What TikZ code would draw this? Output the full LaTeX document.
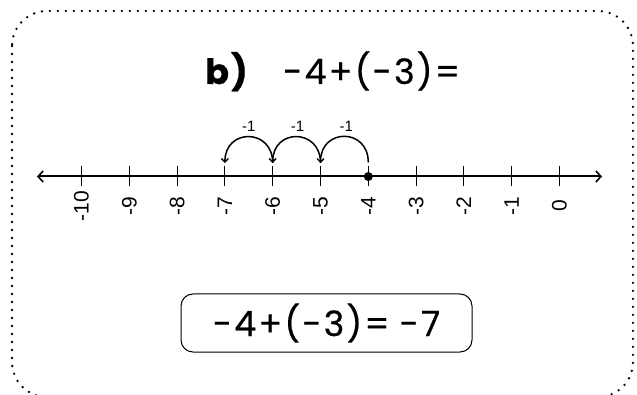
\documentclass[tikz,border=0pt]{standalone}
\usepackage{fontspec}
\setmainfont{Liberation Sans}
\newfontfamily\eqfont{Poppins}[LetterSpace=6, FakeBold=0.5]
\usetikzlibrary{arrows.meta,calc}
\begin{document}
\begin{tikzpicture}[x=1pt,y=-1pt,
  dotborder/.style={line width=2.6pt, line cap=round, dash pattern=on 0pt off 8pt, rounded corners=35pt},
  axisline/.style={line width=2pt, {Straight Barb[length=5pt,width=11pt,line width=1.6pt]}-{Straight Barb[length=5pt,width=11pt,line width=1.6pt]}},
  tickmark/.style={line width=1pt},
  hop/.style={line width=1.5pt, -{Straight Barb[length=3.5pt,width=7pt,line width=1.4pt]}},
  axlabel/.style={rotate=90, font=\fontsize{21}{24}\selectfont, inner sep=0pt},
  hoplabel/.style={font=\fontsize{15}{17}\selectfont, inner sep=0pt},
  bigtext/.style={font=\eqfont\fontsize{35}{40}\selectfont, inner sep=0pt},
  answerbox/.style={draw, rounded corners=12pt, line width=1pt, minimum width=291pt, minimum height=58pt, inner sep=0pt, font=\eqfont\fontsize{35}{40}\selectfont}
]
\useasboundingbox (0,0) rectangle (637,395);
\begin{scope}
  \clip (0,0) rectangle (637,395);
  \draw[dotborder] (12,11) rectangle (633,397);
\end{scope}

% title
\node[bigtext, anchor=base west] (lbl) at (205,84) {\bfseries b)};
\node[bigtext, anchor=base west] (task) at (283,84) {-4+(-3)=};

% number line
\coordinate (L) at (37,176.5);
\coordinate (R) at (602,176.5);
\draw[axisline] (L) -- (R);
\foreach \k in {0,...,10} {
  \coordinate (m\k) at ({559.5-\k*47.8},176.5);
  \draw[tickmark] ([yshift=10pt]m\k) -- ([yshift=-10pt]m\k);
  \node[axlabel] (lab\k) at ([yshift=-29.5pt]m\k) {\ifnum\k=0 0\else -\k\fi};
}
\node[circle, fill, inner sep=0pt, minimum size=9pt] (dot) at (m4) {};

% hops
\draw[hop] ([yshift=14pt]m4) .. controls +(0,-35) and +(0,-35) .. ([yshift=13.5pt]m5);
\draw[hop] ([yshift=13.5pt]m5) .. controls +(0,-35) and +(0,-35) .. ([yshift=13.5pt]m6);
\draw[hop] ([yshift=13.5pt]m6) .. controls +(0,-35) and +(0,-35) .. ([yshift=13.5pt]m7);
\node[hoplabel] (h1) at ($(m4)!0.5!(m5)+(2,-50)$) {-1};
\node[hoplabel] (h2) at ($(m5)!0.5!(m6)+(1,-50)$) {-1};
\node[hoplabel] (h3) at ($(m6)!0.5!(m7)+(0,-50)$) {-1};

% answer
\node[answerbox] (ans) at (326.5,323) {-4+(-3)=\hspace{10pt}-7};
\end{tikzpicture}
\end{document}
